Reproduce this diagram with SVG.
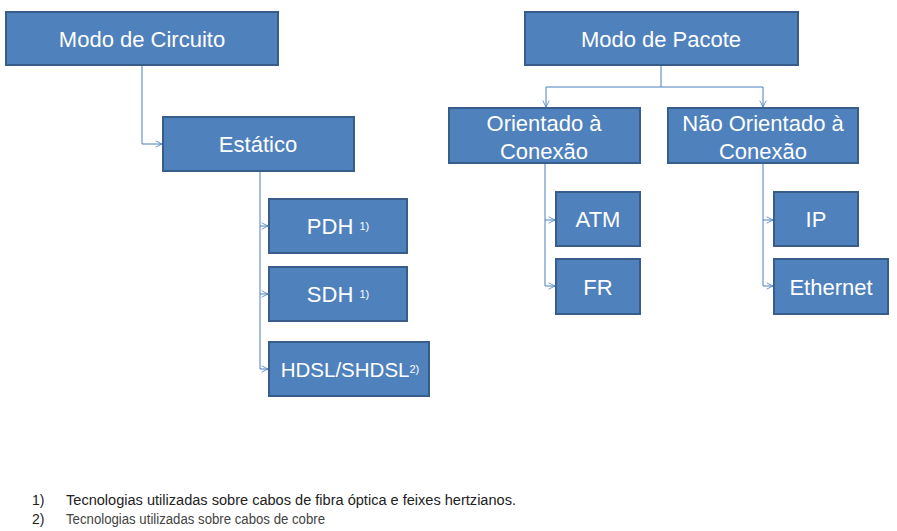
<svg xmlns="http://www.w3.org/2000/svg" width="897" height="531" viewBox="0 0 897 531">
<style>
.box{fill:#4F81BD;stroke:#385D8A;stroke-width:2}
.t{fill:#fff;font-family:"Liberation Sans",Arial,sans-serif;font-size:22px;text-anchor:middle}
.sup{font-size:11px}
.c{fill:none;stroke:#4A7EBB;stroke-width:1}
.fn{fill:#222;font-family:"Liberation Sans",Arial,sans-serif;font-size:14px}
</style>
<defs>
<marker id="arr" viewBox="0 0 10 10" refX="9" refY="5" markerWidth="8" markerHeight="8" orient="auto" markerUnits="userSpaceOnUse">
<path d="M1,1 L9,5 L1,9" fill="none" stroke="#4A7EBB" stroke-width="1"/>
</marker>
</defs>
<g id="connectors">
<path class="c" d="M142,65 V144 H162" marker-end="url(#arr)"/>
<path class="c" d="M661,65 V87 H546 V107" marker-end="url(#arr)"/>
<path class="c" d="M661,87 H763 V107" marker-end="url(#arr)"/>
<path class="c" d="M260,171 V226 H268" marker-end="url(#arr)"/>
<path class="c" d="M260,226 V294 H268" marker-end="url(#arr)"/>
<path class="c" d="M260,294 V369 H268" marker-end="url(#arr)"/>
<path class="c" d="M545,163 V220 H555" marker-end="url(#arr)"/>
<path class="c" d="M545,220 V286 H555" marker-end="url(#arr)"/>
<path class="c" d="M763,163 V220 H773" marker-end="url(#arr)"/>
<path class="c" d="M763,220 V286 H773" marker-end="url(#arr)"/>
</g>
<g id="modo-circuito"><rect class="box" x="6" y="12" width="272" height="53"/><text class="t" x="142" y="47">Modo de Circuito</text></g>
<g id="estatico"><rect class="box" x="163" y="117" width="191" height="54"/><text class="t" x="258" y="152">Estático</text></g>
<g id="pdh"><rect class="box" x="269" y="199" width="138" height="54"/><text class="t" x="338" y="234">PDH <tspan class="sup" dy="-4">1)</tspan></text></g>
<g id="sdh"><rect class="box" x="269" y="267" width="138" height="54"/><text class="t" x="338" y="302">SDH <tspan class="sup" dy="-4">1)</tspan></text></g>
<g id="hdsl"><rect class="box" x="269" y="342" width="160" height="54"/><text class="t" x="350" y="377" style="font-size:20.5px">HDSL/SHDSL<tspan class="sup" dy="-4">2)</tspan></text></g>
<g id="modo-pacote"><rect class="box" x="525" y="12" width="273" height="53"/><text class="t" x="661" y="47">Modo de Pacote</text></g>
<g id="orientado"><rect class="box" x="449" y="108" width="191" height="55"/><text class="t" x="544" y="131">Orientado à</text><text class="t" x="544" y="159">Conexão</text></g>
<g id="nao-orientado"><rect class="box" x="668" y="108" width="190" height="55"/><text class="t" x="763" y="131">Não Orientado à</text><text class="t" x="763" y="159">Conexão</text></g>
<g id="atm"><rect class="box" x="556" y="192" width="84" height="54"/><text class="t" x="598" y="227">ATM</text></g>
<g id="fr"><rect class="box" x="556" y="259" width="84" height="55"/><text class="t" x="598" y="295">FR</text></g>
<g id="ip"><rect class="box" x="774" y="192" width="84" height="54"/><text class="t" x="816" y="227">IP</text></g>
<g id="ethernet"><rect class="box" x="774" y="259" width="114" height="55"/><text class="t" x="831" y="295">Ethernet</text></g>
<g id="footnotes">
<text class="fn" x="32" y="505">1)</text>
<text class="fn" x="66" y="505" textLength="450" lengthAdjust="spacingAndGlyphs">Tecnologias utilizadas sobre cabos de fibra óptica e feixes hertzianos.</text>
<text class="fn" x="32" y="524">2)</text>
<text class="fn" x="66" y="524" style="fill:#444" textLength="259" lengthAdjust="spacingAndGlyphs">Tecnologias utilizadas sobre cabos de cobre</text>
</g>
</svg>
